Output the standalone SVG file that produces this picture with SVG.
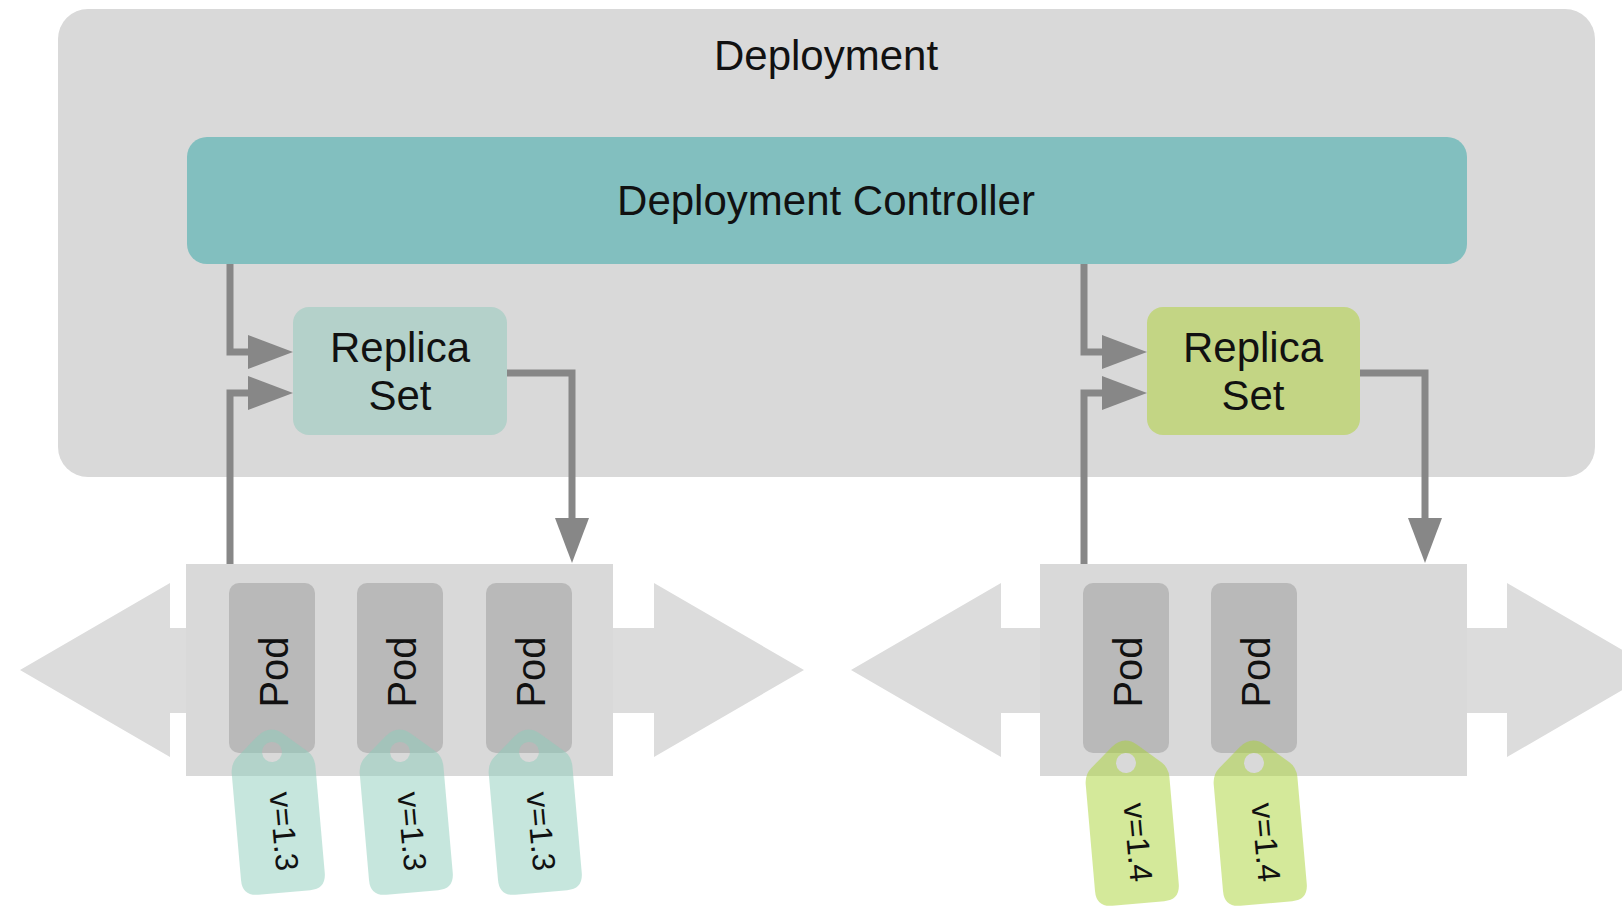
<svg xmlns="http://www.w3.org/2000/svg" width="1622" height="908" viewBox="0 0 1622 908">
<style>
text{font-family:"Liberation Sans",Arial,Helvetica,sans-serif;fill:#111;}
.big{font-size:42px;text-anchor:middle;}
.pod{font-size:40px;text-anchor:middle;}
.tagt{font-size:32px;text-anchor:middle;}
.conn{fill:none;stroke:#878787;stroke-width:7;}
.pbox{fill:#b9b9b9;}
.cont{fill:#d9d9d9;}
.barrow{fill:#dcdcdc;}
.tag13{fill:#8ecdbb;fill-opacity:0.5;fill-rule:evenodd;}
.tag14{fill:#a9d335;fill-opacity:0.5;fill-rule:evenodd;}
</style>
<defs>
<marker id="ah" markerUnits="userSpaceOnUse" markerWidth="46" markerHeight="34" refX="0" refY="17" orient="auto">
<path d="M0,0 L45,17 L0,34 Z" fill="#878787"/>
</marker>
<path id="tagshape" d="M-42,18 Q-42,8 -35,2 L-13,-17 Q0,-28 13,-17 L35,2 Q42,8 42,18 V125 Q42,141 26,141 H-26 Q-42,141 -42,125 Z M-10,0 A10,10 0 1,0 10,0 A10,10 0 1,0 -10,0 Z"/>
</defs>

<g id="deployment">
<rect x="58" y="9" width="1537" height="468" rx="30" fill="#d9d9d9"/>
<text class="big" x="826" y="70">Deployment</text>
</g>

<g id="deployment-controller">
<rect x="187" y="137" width="1280" height="127" rx="20" fill="#82bfbf"/>
<text class="big" x="826" y="215">Deployment Controller</text>
</g>

<g id="replicaset-1">
<rect x="293" y="307" width="214" height="128" rx="16" fill="#b4d1ca"/>
<text class="big" x="400" y="362">Replica</text>
<text class="big" x="400" y="410">Set</text>
</g>

<g id="replicaset-2">
<rect x="1147" y="307" width="213" height="128" rx="16" fill="#c3d584"/>
<text class="big" x="1253" y="362">Replica</text>
<text class="big" x="1253" y="410">Set</text>
</g>

<g id="connectors">
<path class="conn" d="M230,264 V352 H248" marker-end="url(#ah)"/>
<path class="conn" d="M230,565 V393 H248" marker-end="url(#ah)"/>
<path class="conn" d="M507,373 H572 V518" marker-end="url(#ah)"/>
<path class="conn" d="M1084,264 V352 H1102" marker-end="url(#ah)"/>
<path class="conn" d="M1084,565 V393 H1102" marker-end="url(#ah)"/>
<path class="conn" d="M1360,373 H1425 V518" marker-end="url(#ah)"/>
</g>

<g id="pods-v13">
<polygon class="barrow" points="20,670 170,583 170,628 654,628 654,583 804,670 654,757 654,713 170,713 170,757"/>
<rect class="cont" x="186" y="564" width="427" height="212"/>
<g id="pod-1">
<rect class="pbox" x="229" y="583" width="86" height="170" rx="10"/>
<text class="pod" transform="translate(288,672) rotate(-90)">Pod</text>
</g>
<g id="pod-2">
<rect class="pbox" x="357" y="583" width="86" height="170" rx="10"/>
<text class="pod" transform="translate(416,672) rotate(-90)">Pod</text>
</g>
<g id="pod-3">
<rect class="pbox" x="486" y="583" width="86" height="170" rx="10"/>
<text class="pod" transform="translate(545,672) rotate(-90)">Pod</text>
</g>
<g id="tag-1" transform="translate(272,752) rotate(-5)">
<use href="#tagshape" class="tag13"/>
<text class="tagt" transform="translate(-6,80) rotate(90)">v=1.3</text>
</g>
<g id="tag-2" transform="translate(400,752) rotate(-5)">
<use href="#tagshape" class="tag13"/>
<text class="tagt" transform="translate(-6,80) rotate(90)">v=1.3</text>
</g>
<g id="tag-3" transform="translate(529,752) rotate(-5)">
<use href="#tagshape" class="tag13"/>
<text class="tagt" transform="translate(-6,80) rotate(90)">v=1.3</text>
</g>
</g>

<g id="pods-v14">
<polygon class="barrow" points="851,670 1001,583 1001,628 1507,628 1507,583 1657,670 1507,757 1507,713 1001,713 1001,757"/>
<rect class="cont" x="1040" y="564" width="427" height="212"/>
<g id="pod-4">
<rect class="pbox" x="1083" y="583" width="86" height="170" rx="10"/>
<text class="pod" transform="translate(1142,672) rotate(-90)">Pod</text>
</g>
<g id="pod-5">
<rect class="pbox" x="1211" y="583" width="86" height="170" rx="10"/>
<text class="pod" transform="translate(1270,672) rotate(-90)">Pod</text>
</g>
<g id="tag-4" transform="translate(1126,763) rotate(-5)">
<use href="#tagshape" class="tag14"/>
<text class="tagt" transform="translate(-6,80) rotate(90)">v=1.4</text>
</g>
<g id="tag-5" transform="translate(1254,763) rotate(-5)">
<use href="#tagshape" class="tag14"/>
<text class="tagt" transform="translate(-6,80) rotate(90)">v=1.4</text>
</g>
</g>
</svg>
